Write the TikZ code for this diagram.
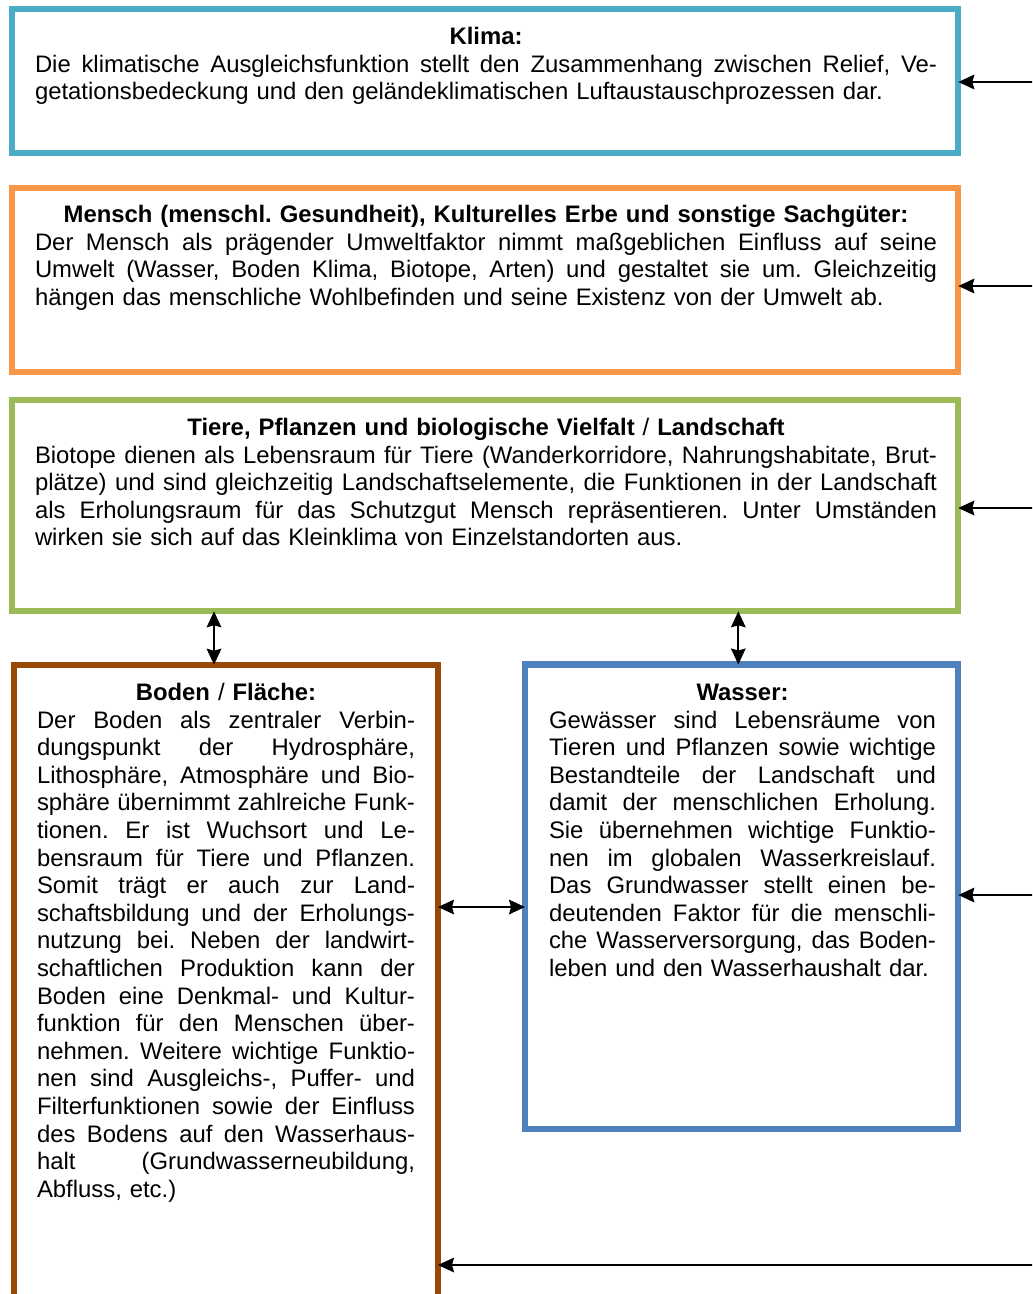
\documentclass[tikz,border=0pt]{standalone}
\usepackage{fontspec}
\setmainfont{Liberation Sans}
\usetikzlibrary{arrows.meta,fit}
\definecolor{klimac}{HTML}{4BACC6}
\definecolor{menschc}{HTML}{F79646}
\definecolor{tierec}{HTML}{9BBB59}
\definecolor{bodenc}{HTML}{984807}
\definecolor{wasserc}{HTML}{4F81BD}
\frenchspacing
\newcommand\jline[1]{\noindent{\spaceskip=\fontdimen2\font plus 1fil\relax\hbox to\linewidth{\strut#1}}\par}
\newcommand\lline[1]{\noindent\hbox to\linewidth{\strut#1\hfil}\par}
\newcommand\tline[1]{\noindent\hbox to\linewidth{\hfil\strut\bfseries #1\hfil}\par}
\tikzset{
  box/.style={draw=#1, line width=4.7pt, inner sep=0pt, outer sep=0pt},
  txt/.style={inner sep=0pt, outer sep=0pt, anchor=north west,
    font=\fontsize{17.9}{20.7}\selectfont\frenchspacing},
  arr/.style={-{Stealth[length=12pt,width=11pt,inset=1.5pt]}, line width=1.3pt},
  darr/.style={{Stealth[length=12pt,width=11pt,inset=1.5pt]}-{Stealth[length=12pt,width=11pt,inset=1.5pt]}, line width=1.3pt}
}
\begin{document}
\begin{tikzpicture}[x=0.75pt,y=-0.75pt]
\useasboundingbox (0,0) rectangle (1032,1294);
\clip (0,0) rectangle (1032,1294);
\fill[white] (0,0) rectangle (1032,1294);
% boxes
\node[box=klimac, fit={(12,9)(958.3,153)}] (klima) {};
\node[box=menschc, fit={(12,188)(958.3,372.3)}] (mensch) {};
\node[box=tierec, fit={(12,400.3)(958.3,611.3)}] (tiere) {};
\node[box=bodenc, fit={(13.7,664.7)(438,1330)}] (boden) {};
\node[box=wasserc, fit={(525,664.5)(958.3,1129)}] (wasser) {};
% texts
\node[txt, text width=676.5pt] (tklima) at (35,25.2) {%
\tline{Klima:}
\jline{Die klimatische Ausgleichsfunktion stellt den Zusammenhang zwischen Relief, Ve-}
\lline{getationsbedeckung und den geländeklimatischen Luftaustauschprozessen dar.}};
\node[txt, text width=676.5pt] (tmensch) at (35,203.2) {%
\tline{Mensch (menschl. Gesundheit), Kulturelles Erbe und sonstige Sachgüter:}
\jline{Der Mensch als prägender Umweltfaktor nimmt maßgeblichen Einfluss auf seine}
\jline{Umwelt (Wasser, Boden Klima, Biotope, Arten) und gestaltet sie um. Gleichzeitig}
\lline{hängen das menschliche Wohlbefinden und seine Existenz von der Umwelt ab.}};
\node[txt, text width=676.5pt] (ttiere) at (35,416.2) {%
\tline{Tiere, Pflanzen und biologische Vielfalt \mdseries/\bfseries{} Landschaft}
\jline{Biotope dienen als Lebensraum für Tiere (Wanderkorridore, Nahrungshabitate, Brut-}
\jline{plätze) und sind gleichzeitig Landschaftselemente, die Funktionen in der Landschaft}
\jline{als Erholungsraum für das Schutzgut Mensch repräsentieren. Unter Umständen}
\lline{wirken sie sich auf das Kleinklima von Einzelstandorten aus.}};
\node[txt, text width=283.5pt] (tboden) at (37,681.2) {%
\tline{Boden \mdseries/\bfseries{} Fläche:}
\jline{Der Boden als zentraler Verbin-}
\jline{dungspunkt der Hydrosphäre,}
\jline{Lithosphäre, Atmosphäre und Bio-}
\jline{sphäre übernimmt zahlreiche Funk-}
\jline{tionen. Er ist Wuchsort und Le-}
\jline{bensraum für Tiere und Pflanzen.}
\jline{Somit trägt er auch zur Land-}
\jline{schaftsbildung und der Erholungs-}
\jline{nutzung bei. Neben der landwirt-}
\jline{schaftlichen Produktion kann der}
\jline{Boden eine Denkmal- und Kultur-}
\jline{funktion für den Menschen über-}
\jline{nehmen. Weitere wichtige Funktio-}
\jline{nen sind Ausgleichs-, Puffer- und}
\jline{Filterfunktionen sowie der Einfluss}
\jline{des Bodens auf den Wasserhaus-}
\jline{halt (Grundwasserneubildung,}
\lline{Abfluss, etc.)}};
\node[txt, text width=290.25pt] (twasser) at (549,681.2) {%
\tline{Wasser:}
\jline{Gewässer sind Lebensräume von}
\jline{Tieren und Pflanzen sowie wichtige}
\jline{Bestandteile der Landschaft und}
\jline{damit der menschlichen Erholung.}
\jline{Sie übernehmen wichtige Funktio-}
\jline{nen im globalen Wasserkreislauf.}
\jline{Das Grundwasser stellt einen be-}
\jline{deutenden Faktor für die menschli-}
\jline{che Wasserversorgung, das Boden-}
\lline{leben und den Wasserhaushalt dar.}};
% arrows
\coordinate (rk) at (1036,82);
\coordinate (rm) at (1036,286);
\coordinate (rt) at (1036,508);
\coordinate (rw) at (1036,895);
\coordinate (rb) at (1036,1265);
\draw[arr] (rk) -- (rk -| klima.east);
\draw[arr] (rm) -- (rm -| mensch.east);
\draw[arr] (rt) -- (rt -| tiere.east);
\draw[arr] (rw) -- (rw -| wasser.east);
\draw[arr] (rb) -- (rb -| boden.east);
\coordinate (v1) at (214,640);
\coordinate (v2) at (738.3,640);
\coordinate (h1) at (480,907);
\draw[darr] (v1 |- tiere.south) -- (v1 |- boden.north);
\draw[darr] (v2 |- tiere.south) -- (v2 |- wasser.north);
\draw[darr] (h1 -| boden.east) -- (h1 -| wasser.west);
\end{tikzpicture}
\end{document}
